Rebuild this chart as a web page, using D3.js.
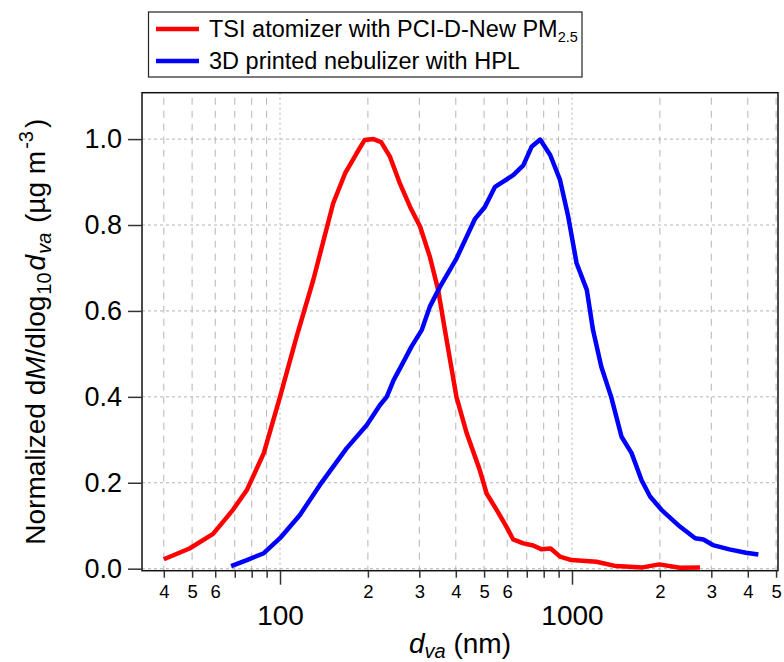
<!DOCTYPE html>
<html>
<head>
<meta charset="utf-8">
<script src="https://d3js.org/d3.v7.min.js"></script>
<style>
  body { margin: 0; background: #fff; }
  svg text { font-family: "Liberation Sans", Arial, sans-serif; fill: #000; }
</style>
</head>
<body>
<svg id="chart" width="784" height="662"></svg>
<script>
// TSI atomizer with PCI-D-New PM2.5 (red)
var redX = [40, 49, 59, 69, 77, 88, 100, 114, 130, 152, 167, 183, 195, 209, 222, 238, 258, 279, 302, 326,
            348, 367, 402, 436, 483, 510, 552, 596, 629, 681, 737, 787, 845, 910, 996, 1213, 1416, 1745,
            1990, 2342, 2744];
var redY = [0.022, 0.047, 0.081, 0.137, 0.183, 0.269, 0.40, 0.54, 0.672, 0.85, 0.92, 0.967, 0.998, 1.0, 0.993,
            0.959, 0.895, 0.842, 0.796, 0.726, 0.649, 0.556, 0.40, 0.315, 0.23, 0.175, 0.137, 0.098, 0.068,
            0.059, 0.054, 0.045, 0.047, 0.028, 0.020, 0.016, 0.006, 0.003, 0.010, 0.002, 0.003];

// 3D printed nebulizer with HPL (blue)
var blueX = [68, 77, 88, 100, 117, 137, 169, 198, 220, 232, 245, 265, 282, 306, 326, 353, 402, 466, 503, 545,
             629, 681, 727, 778, 842, 910, 971, 1037, 1124, 1180, 1260, 1362, 1478, 1600, 1731, 1851, 2025,
             2342, 2642, 2818, 3039, 3460, 3942, 4347];
var blueY = [0.006, 0.020, 0.036, 0.071, 0.125, 0.195, 0.28, 0.334, 0.381, 0.40, 0.439, 0.482, 0.517, 0.556,
             0.61, 0.656, 0.722, 0.815, 0.842, 0.889, 0.916, 0.939, 0.982, 0.999, 0.963, 0.905, 0.819, 0.711,
             0.649, 0.556, 0.47, 0.40, 0.307, 0.269, 0.206, 0.168, 0.137, 0.098, 0.071, 0.068, 0.055, 0.045,
             0.037, 0.033];

var yTicks = [0, 0.2, 0.4, 0.6, 0.8, 1.0];
var xMajor = [100, 1000];
var xMinor = [40, 50, 60, 70, 80, 90, 200, 300, 400, 500, 600, 700, 800, 900, 2000, 3000, 4000, 5000];
var minorLabel = {40: "4", 50: "5", 60: "6", 200: "2", 300: "3", 400: "4", 500: "5", 600: "6",
                  2000: "2", 3000: "3", 4000: "4", 5000: "5"};

var margin = {top: 92.7, right: 6, bottom: 91.3, left: 142},
    W = 784, H = 662,
    width = W - margin.left - margin.right,
    height = H - margin.top - margin.bottom;

var svg = d3.select("#chart");

var x = d3.scaleLog().domain([33.68, 5076]).range([0, width]);
var y = d3.scaleLinear().domain([-0.0047, 1.108]).range([height, 0]);

var g = svg.append("g").attr("transform", "translate(" + margin.left + "," + margin.top + ")");

// grid
g.selectAll(".hgrid").data(yTicks).enter().append("line")
  .attr("x1", 0).attr("x2", width)
  .attr("y1", function(d) { return y(d); }).attr("y2", function(d) { return y(d); })
  .attr("stroke", "#b4b4b4").attr("stroke-width", 1).attr("stroke-dasharray", "3,3");

g.selectAll(".vminor").data(xMinor).enter().append("line")
  .attr("x1", function(d) { return x(d); }).attr("x2", function(d) { return x(d); })
  .attr("y1", 5).attr("y2", height)
  .attr("stroke", "#b4b4b4").attr("stroke-width", 1).attr("stroke-dasharray", "7,6");

g.selectAll(".vmajor").data(xMajor).enter().append("line")
  .attr("x1", function(d) { return x(d); }).attr("x2", function(d) { return x(d); })
  .attr("y1", 0).attr("y2", height)
  .attr("stroke", "#b4b4b4").attr("stroke-width", 1).attr("stroke-dasharray", "2,3");

// curves
var line = d3.line()
  .x(function(d) { return x(d[0]); })
  .y(function(d) { return y(d[1]); });

g.append("path").datum(d3.zip(redX, redY))
  .attr("fill", "none").attr("stroke", "#ff0000").attr("stroke-width", 4.5)
  .attr("stroke-linejoin", "round").attr("d", line);

g.append("path").datum(d3.zip(blueX, blueY))
  .attr("fill", "none").attr("stroke", "#0000ff").attr("stroke-width", 4.5)
  .attr("stroke-linejoin", "round").attr("d", line);

// frame
g.append("rect").attr("x", 0).attr("y", 0).attr("width", width).attr("height", height)
  .attr("fill", "none").attr("stroke", "#111").attr("stroke-width", 1.5);

// axes
function styleAxis(sel, fs) {
  sel.select(".domain").remove();
  sel.selectAll("line").attr("stroke", "#333").attr("stroke-width", 1.5);
  sel.selectAll("text").style("font-family", "'Liberation Sans', Arial, sans-serif")
    .style("font-size", fs + "px").attr("fill", "#000");
}

g.append("g").attr("transform", "translate(0," + height + ")")
  .call(d3.axisBottom(x).tickValues(xMinor).tickSize(7).tickPadding(7)
    .tickFormat(function(d) { return minorLabel[d] || ""; }))
  .call(styleAxis, 18.5);

g.append("g").attr("transform", "translate(0," + height + ")")
  .call(d3.axisBottom(x).tickValues(xMajor).tickSize(14).tickPadding(20)
    .tickFormat(d3.format("d")))
  .call(styleAxis, 28);

g.append("g")
  .call(d3.axisLeft(y).tickValues(yTicks).tickSize(14).tickPadding(6).tickFormat(d3.format(".1f")))
  .call(styleAxis, 27);

// axis titles
var xt = svg.append("text").attr("x", margin.left + width / 2).attr("y", 653)
  .attr("text-anchor", "middle").style("font-size", "28px");
xt.append("tspan").style("font-style", "italic").text("d");
xt.append("tspan").style("font-style", "italic").style("font-size", "20px").attr("dy", 5).text("va");
xt.append("tspan").attr("dy", -5).text(" (nm)");

var yt = svg.append("text").attr("transform", "translate(45," + (margin.top + height / 2) + ") rotate(-90)")
  .attr("text-anchor", "middle").style("font-size", "28px");
yt.append("tspan").text("Normalized d");
yt.append("tspan").style("font-style", "italic").text("M");
yt.append("tspan").text("/dlog");
yt.append("tspan").style("font-size", "20px").attr("dx", 1).attr("dy", 6).text("10");
yt.append("tspan").style("font-style", "italic").attr("dx", 2).attr("dy", -6).text("d");
yt.append("tspan").style("font-style", "italic").style("font-size", "20px").attr("dx", 1).attr("dy", 6).text("va");
yt.append("tspan").attr("dx", 2).attr("dy", -6).text(" (\u00b5g m");
yt.append("tspan").style("font-size", "20px").attr("dx", 2).attr("dy", -12).text("-3");
yt.append("tspan").attr("dx", 3).attr("dy", 12).text(")");

// legend
var legendNames = ["TSI atomizer with PCI-D-New PM", "3D printed nebulizer with HPL"];
var legendColors = ["#ff0000", "#0000ff"];
var leg = svg.append("g");
leg.append("rect").attr("x", 148.5).attr("y", 12).attr("width", 433.5).attr("height", 65)
  .attr("fill", "#fff").attr("stroke", "#222").attr("stroke-width", 1.2);
legendNames.forEach(function(name, i) {
  var ly = 29 + i * 32;
  leg.append("line").attr("x1", 156).attr("x2", 199).attr("y1", ly).attr("y2", ly)
    .attr("stroke", legendColors[i]).attr("stroke-width", 4.5);
  var t = leg.append("text").attr("x", 209).attr("y", ly + 8).style("font-size", "23.5px").text(name);
  if (i === 0) {
    t.append("tspan").style("font-size", "14.5px").attr("dy", 5).text("2.5");
  }
});
</script>
</body>
</html>
